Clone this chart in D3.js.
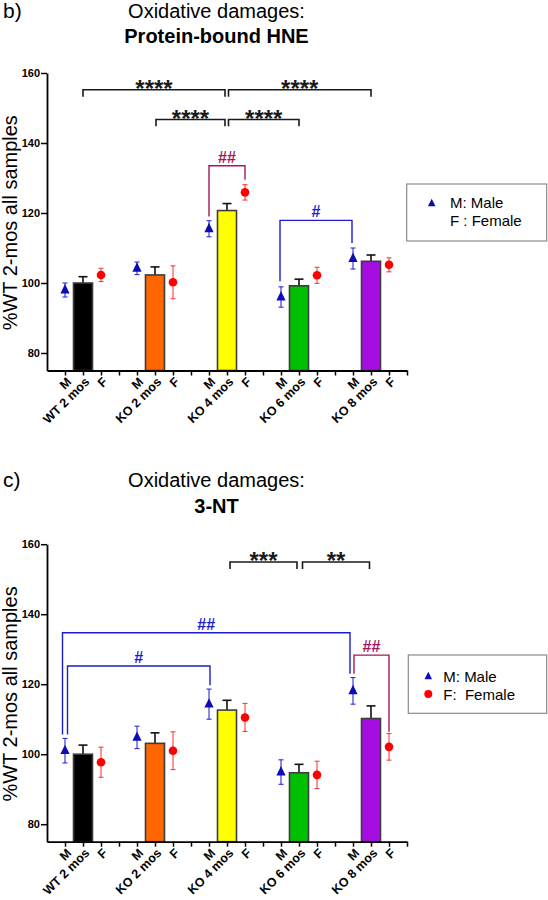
<!DOCTYPE html>
<html>
<head>
<meta charset="utf-8">
<script src="https://cdn.jsdelivr.net/npm/d3@7"></script>
<style>
  html, body { margin: 0; padding: 0; background: #fff; }
  svg { display: block; font-family: "Liberation Sans", Arial, sans-serif; }
</style>
</head>
<body>
<svg id="chart" width="548" height="900"></svg>
<script>
// ---------- DATA ----------
const groups = ["WT 2 mos", "KO 2 mos", "KO 4 mos", "KO 6 mos", "KO 8 mos"];
const yTicks = [80, 100, 120, 140, 160];

// Panel b) Protein-bound HNE
const hneMean       = [100, 102.3, 120.7, 99.2, 106.2];
const hneSem        = [1.8, 2.3, 2.0, 1.9, 1.8];
const hneMale       = [98.0, 104.2, 115.5, 96.0, 107.0];
const hneMaleSem    = [2.0, 1.8, 2.3, 2.9, 3.0];
const hneFemale     = [102.3, 100.2, 125.9, 102.2, 105.2];
const hneFemaleSem  = [1.9, 4.7, 2.2, 2.3, 2.0];

// Panel c) 3-NT
const ntMean        = [100, 103.1, 112.6, 94.7, 110.2];
const ntSem         = [2.6, 3.0, 2.8, 2.4, 3.6];
const ntMale        = [101.0, 104.8, 114.3, 94.9, 118.1];
const ntMaleSem     = [3.5, 3.2, 4.3, 3.5, 3.8];
const ntFemale      = [97.7, 101.0, 110.5, 94.1, 102.1];
const ntFemaleSem   = [4.3, 5.4, 4.0, 3.9, 3.8];

// Significance annotations: [group, member] endpoints, bracket level and leg ends (in data units)
const hneBrackets = [
  { a: [0, "bar"], b: [2, "bar"], level: 155.2, endA: 153.2, endB: 153.2, label: "****", kind: "star", da: 0, db: -2 },
  { a: [2, "bar"], b: [4, "bar"], level: 155.2, endA: 153.2, endB: 153.2, label: "****", kind: "star", da: 1.5, db: 0 },
  { a: [1, "bar"], b: [2, "bar"], level: 146.7, endA: 144.8, endB: 144.8, label: "****", kind: "star", da: 1, db: -2 },
  { a: [2, "bar"], b: [3, "bar"], level: 146.7, endA: 144.8, endB: 144.8, label: "****", kind: "star", da: 1.5, db: 0 },
  { a: [2, "M"],   b: [2, "F"],   level: 133.5, endA: 119.0, endB: 129.5, label: "##", kind: "sex", da: 0, db: 0 },
  { a: [3, "M"],   b: [4, "M"],   level: 117.9, endA: 100.5, endB: 111.4, label: "#", kind: "male", da: -1, db: -1 }
];
const ntBrackets = [
  { a: [2, "bar"], b: [3, "bar"], level: 154.9, endA: 152.9, endB: 152.9, label: "***", kind: "star", da: 3, db: -2 },
  { a: [3, "bar"], b: [4, "bar"], level: 154.9, endA: 152.9, endB: 152.9, label: "**", kind: "star", da: 3.5, db: -1.5 },
  { a: [0, "M"],   b: [4, "M"],   level: 134.7, endA: 105.6, endB: 123.0, label: "##", kind: "male", da: -2.5, db: -3 },
  { a: [0, "M"],   b: [2, "M"],   level: 125.2, endA: 105.6, endB: 119.7, label: "#", kind: "male", da: 2.5, db: 1 },
  { a: [4, "M"],   b: [4, "F"],   level: 128.3, endA: 123.0, endB: 106.4, label: "##", kind: "sex", da: 1, db: 0 }
];

// ---------- STYLE ----------
const barColors = ["#000000", "#ff6600", "#ffff00", "#00bf00", "#a50de0"];
const maleColor = "#0c0cb4";
const maleErr = "#2a2ad8";
const femaleColor = "#ff0000";
const femaleErr = "#ff3b3b";
const sexColor = "#a3175c";
const blueBracket = "#1c1cd0";

const svg = d3.select("#chart");

const xs = d3.scaleLinear().domain([-1, 19]).range([47, 407]);
const slot = (g, m) => 4 * g + (m === "M" ? 0 : m === "bar" ? 1 : 2);

function drawPanel(cfg) {
  const y = d3.scaleLinear().domain([75, 160]).range([cfg.yBottom, cfg.yTop]);
  const g = svg.append("g");

  // titles
  g.append("text").attr("x", 3).attr("y", cfg.titleY).attr("font-size", 21).text(cfg.letter);
  g.append("text").attr("x", 216.5).attr("y", cfg.titleY).attr("font-size", 20)
    .attr("text-anchor", "middle").text("Oxidative damages:");
  g.append("text").attr("x", 216.5).attr("y", cfg.subtitleY).attr("font-size", 20)
    .attr("font-weight", "bold").attr("text-anchor", "middle").text(cfg.subtitle);

  // y axis
  const ya = g.append("g").attr("transform", `translate(${xs(-1)},0)`)
    .call(d3.axisLeft(y).tickValues(yTicks).tickSize(6).tickSizeOuter(0).tickFormat(d3.format("d")));
  ya.select(".domain").attr("stroke", "#000").attr("stroke-width", 1.8);
  ya.selectAll(".tick line").attr("stroke", "#000").attr("stroke-width", 1.5);
  ya.selectAll(".tick text").attr("font-size", 11).attr("font-weight", "bold")
    .attr("font-family", "Liberation Sans, Arial, sans-serif").attr("fill", "#000").attr("x", -7);

  g.append("text")
    .attr("transform", `translate(17,${(cfg.yTop + cfg.yBottom) / 2 + 1}) rotate(-90)`)
    .attr("text-anchor", "middle").attr("font-size", 20).text("%WT 2-mos all samples");

  // bars
  const bw = 19;
  const bars = g.append("g");
  cfg.mean.forEach((v, i) => {
    const cx = xs(slot(i, "bar"));
    bars.append("line").attr("x1", cx).attr("x2", cx).attr("y1", y(v)).attr("y2", y(v + cfg.sem[i]))
      .attr("stroke", "#111").attr("stroke-width", 1.6);
    bars.append("line").attr("x1", cx - 4.5).attr("x2", cx + 4.5).attr("y1", y(v + cfg.sem[i])).attr("y2", y(v + cfg.sem[i]))
      .attr("stroke", "#111").attr("stroke-width", 1.6);
    bars.append("rect").attr("x", cx - bw / 2).attr("y", y(v)).attr("width", bw).attr("height", cfg.yBottom - y(v))
      .attr("fill", barColors[i]).attr("stroke", "#3d3d3d").attr("stroke-width", 1.6);
  });

  // x axis (ticks only; labels drawn separately)
  const labelFor = i => (i % 4 === 0 ? "M" : i % 4 === 1 ? groups[(i - 1) / 4] : i % 4 === 2 ? "F" : "");
  const xa = g.append("g").attr("transform", `translate(0,${cfg.yBottom})`)
    .call(d3.axisBottom(xs).tickValues(d3.range(0, 20)).tickSize(5).tickSizeOuter(0).tickFormat(""));
  xa.select(".domain").attr("stroke", "#000").attr("stroke-width", 1.8);
  xa.selectAll(".tick line").attr("stroke", "#000").attr("stroke-width", 1.5);

  const xl = g.append("g");
  d3.range(0, 20).filter(i => i % 4 !== 3).forEach(i => {
    const px = xs(i) + 4, py = cfg.yBottom + 9;
    xl.append("text")
      .attr("transform", `translate(${px},${py}) rotate(-45)`)
      .attr("text-anchor", "end").attr("dy", "0.35em")
      .attr("font-size", 12.5).attr("font-weight", "bold").attr("fill", "#000")
      .text(labelFor(i));
  });

  // markers with error bars
  const pts = g.append("g");
  const errBar = (cx, v, e, color) => {
    pts.append("line").attr("x1", cx).attr("x2", cx).attr("y1", y(v - e)).attr("y2", y(v + e))
      .attr("stroke", color).attr("stroke-width", 1.1);
    [v - e, v + e].forEach(t => pts.append("line").attr("x1", cx - 2.5).attr("x2", cx + 2.5)
      .attr("y1", y(t)).attr("y2", y(t)).attr("stroke", color).attr("stroke-width", 1.1));
  };
  cfg.male.forEach((v, i) => {
    const cx = xs(slot(i, "M"));
    errBar(cx, v, cfg.maleSem[i], maleErr);
    pts.append("path").attr("d", "M0,-6 L4.6,3.4 L-4.6,3.4 Z")
      .attr("transform", `translate(${cx},${y(v)})`).attr("fill", maleColor);
  });
  cfg.female.forEach((v, i) => {
    const cx = xs(slot(i, "F"));
    errBar(cx, v, cfg.femaleSem[i], femaleErr);
    pts.append("circle").attr("cx", cx).attr("cy", y(v)).attr("r", 4.3).attr("fill", femaleColor);
  });

  // brackets
  const br = g.append("g");
  cfg.brackets.forEach(b => {
    const xa_ = xs(slot(b.a[0], b.a[1])) + b.da;
    const xb_ = xs(slot(b.b[0], b.b[1])) + b.db;
    const color = b.kind === "star" ? "#1a1a1a" : b.kind === "sex" ? sexColor : blueBracket;
    br.append("path")
      .attr("d", `M${xa_},${y(b.endA)} V${y(b.level)} H${xb_} V${y(b.endB)}`)
      .attr("fill", "none").attr("stroke", color).attr("stroke-width", b.kind === "star" ? 1.6 : 1.4);
    const t = br.append("text").attr("x", (xa_ + xb_) / 2).attr("text-anchor", "middle").attr("fill", color).text(b.label);
    if (b.kind === "star") {
      t.attr("y", y(b.level) + 7).attr("font-size", 24).attr("font-weight", "bold");
    } else {
      t.attr("y", y(b.level) - 3).attr("font-size", 16).attr("font-weight", "bold");
    }
  });

  // legend
  const lg = g.append("g");
  lg.append("rect").attr("x", cfg.legend.x).attr("y", cfg.legend.y).attr("width", cfg.legend.w).attr("height", cfg.legend.h)
    .attr("fill", "#fff").attr("stroke", "#8a8a8a").attr("stroke-width", 1.2);
  lg.append("path").attr("d", "M0,-4.8 L3.8,2.8 L-3.8,2.8 Z")
    .attr("transform", `translate(${cfg.legend.mx},${cfg.legend.my1})`).attr("fill", maleColor);
  if (cfg.legend.showCircle) {
    lg.append("circle").attr("cx", cfg.legend.mx).attr("cy", cfg.legend.my2).attr("r", 4).attr("fill", femaleColor);
  }
  lg.append("text").attr("x", cfg.legend.tx).attr("y", cfg.legend.ty1).attr("font-size", 15).text("M: Male");
  lg.append("text").attr("x", cfg.legend.tx).attr("y", cfg.legend.ty2).attr("font-size", 15)
    .attr("xml:space", "preserve").style("white-space", "pre").text(cfg.legend.fText);
}

drawPanel({
  letter: "b)", subtitle: "Protein-bound HNE", titleY: 18.3, subtitleY: 42.5,
  yTop: 73, yBottom: 370.5,
  mean: hneMean, sem: hneSem, male: hneMale, maleSem: hneMaleSem, female: hneFemale, femaleSem: hneFemaleSem,
  brackets: hneBrackets,
  legend: { x: 406.7, y: 184, w: 140, h: 57, mx: 431.7, my1: 203.5, tx: 450, ty1: 208, ty2: 226, showCircle: false, fText: "F : Female" }
});

drawPanel({
  letter: "c)", subtitle: "3-NT", titleY: 486.5, subtitleY: 512.7,
  yTop: 544.2, yBottom: 841.7,
  mean: ntMean, sem: ntSem, male: ntMale, maleSem: ntMaleSem, female: ntFemale, femaleSem: ntFemaleSem,
  brackets: ntBrackets,
  legend: { x: 408.3, y: 655, w: 138.4, h: 58.3, mx: 428.3, my1: 676.5, my2: 694, tx: 443.3, ty1: 681.5, ty2: 699.5, showCircle: true, fText: "F:  Female" }
});
</script>
</body>
</html>
